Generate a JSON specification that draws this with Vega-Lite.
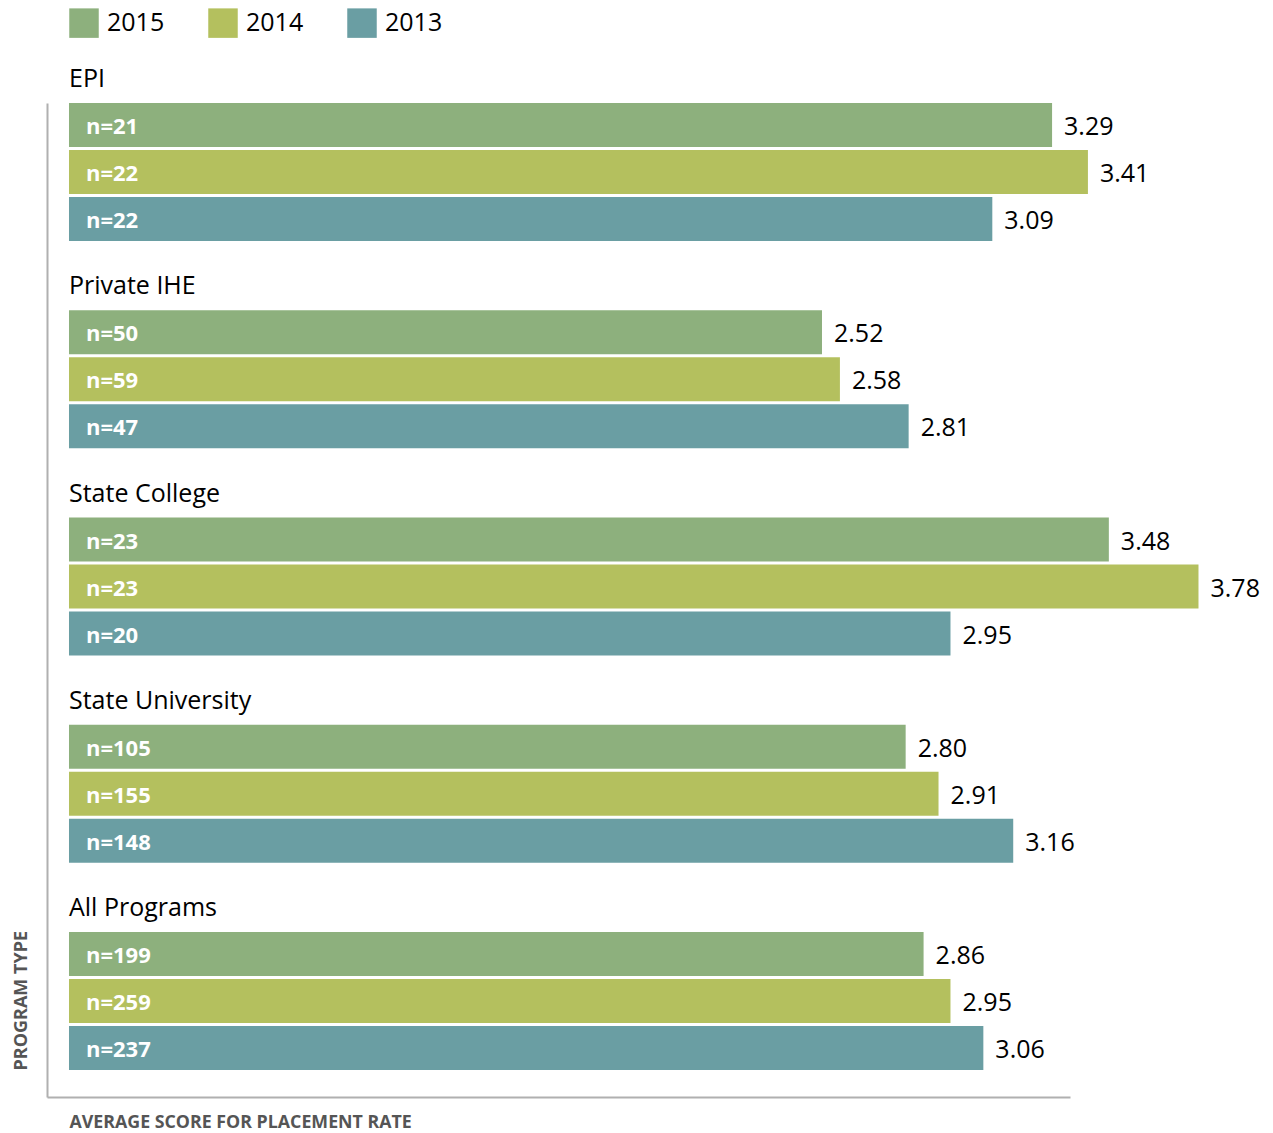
{
  "$schema": "https://vega.github.io/schema/vega-lite/v6.json",
  "width": 1023,
  "height": 994,
  "autosize": {"type": "none"},
  "padding": {"left": 47, "top": 103, "right": 203, "bottom": 36},
  "background": "white",
  "config": {"font": "Open Sans", "view": {"stroke": null}},
  "data": {"values": [
    {"group": "EPI", "year": "2015", "score": 3.29, "sample": "n=21"},
    {"group": "EPI", "year": "2014", "score": 3.41, "sample": "n=22"},
    {"group": "EPI", "year": "2013", "score": 3.09, "sample": "n=22"},
    {"group": "Private IHE", "year": "2015", "score": 2.52, "sample": "n=50"},
    {"group": "Private IHE", "year": "2014", "score": 2.58, "sample": "n=59"},
    {"group": "Private IHE", "year": "2013", "score": 2.81, "sample": "n=47"},
    {"group": "State College", "year": "2015", "score": 3.48, "sample": "n=23"},
    {"group": "State College", "year": "2014", "score": 3.78, "sample": "n=23"},
    {"group": "State College", "year": "2013", "score": 2.95, "sample": "n=20"},
    {"group": "State University", "year": "2015", "score": 2.80, "sample": "n=105"},
    {"group": "State University", "year": "2014", "score": 2.91, "sample": "n=155"},
    {"group": "State University", "year": "2013", "score": 3.16, "sample": "n=148"},
    {"group": "All Programs", "year": "2015", "score": 2.86, "sample": "n=199"},
    {"group": "All Programs", "year": "2014", "score": 2.95, "sample": "n=259"},
    {"group": "All Programs", "year": "2013", "score": 3.06, "sample": "n=237"}
  ]},
  "encoding": {
    "y": {
      "field": "group",
      "type": "nominal",
      "scale": {
        "domain": ["EPI", "Private IHE", "State College", "State University", "All Programs"],
        "paddingInner": 0.3341,
        "paddingOuter": 0.0651,
        "align": 0
      },
      "axis": {
        "title": "PROGRAM TYPE",
        "labels": false,
        "ticks": false,
        "grid": false,
        "domainColor": "#b0b0b0",
        "domainWidth": 2,
        "titleX": -26,
        "titleY": 967,
        "titleAngle": 270,
        "titleAlign": "left",
        "titleBaseline": "middle",
        "titleFontSize": 18,
        "titleFontWeight": "bold",
        "titleColor": "#555555"
      }
    }
  },
  "layer": [
    {
      "mark": {"type": "bar"},
      "encoding": {
        "x": {
          "field": "score",
          "type": "quantitative",
          "scale": {"domain": [-0.0736, 3.35], "nice": false, "zero": false},
          "axis": {
            "title": "AVERAGE SCORE FOR PLACEMENT RATE",
            "labels": false,
            "ticks": false,
            "grid": false,
            "domainColor": "#b0b0b0",
            "domainWidth": 2,
            "titleX": 22,
            "titleY": 25,
            "titleAlign": "left",
            "titleAnchor": null,
            "titleBaseline": "middle",
            "titleFontSize": 17.8,
            "titleFontWeight": "bold",
            "titleColor": "#555555"
          }
        },
        "x2": {"datum": 0},
        "yOffset": {
          "field": "year",
          "type": "nominal",
          "scale": {"domain": ["2015", "2014", "2013"], "paddingInner": 0.0638, "paddingOuter": 0}
        },
        "color": {
          "field": "year",
          "type": "nominal",
          "scale": {"domain": ["2015", "2014", "2013"], "range": ["#8db07d", "#b4c05e", "#6a9ea3"]},
          "legend": {
            "orient": "none",
            "legendX": 22,
            "legendY": -95,
            "direction": "horizontal",
            "title": null,
            "padding": 0,
            "symbolType": "square",
            "symbolSize": 870,
            "symbolStrokeWidth": 0,
            "symbolOpacity": 1,
            "labelFontSize": 25,
            "labelColor": "black",
            "labelOffset": 8,
            "columnPadding": 43
          }
        }
      }
    },
    {
      "transform": [{"filter": "datum.year == '2015'"}],
      "mark": {"type": "text", "align": "left", "baseline": "alphabetic", "dy": -16, "fontSize": 25, "color": "black"},
      "encoding": {
        "x": {"datum": 0, "type": "quantitative"},
        "y": {"field": "group", "type": "nominal", "bandPosition": 0},
        "text": {"field": "group"}
      }
    },
    {
      "mark": {"type": "text", "align": "left", "baseline": "middle", "dx": 17, "dy": 2, "fontSize": 22, "fontWeight": "bold", "color": "white"},
      "encoding": {
        "x": {"datum": 0, "type": "quantitative"},
        "yOffset": {"field": "year", "type": "nominal"},
        "text": {"field": "sample"}
      }
    },
    {
      "mark": {"type": "text", "align": "left", "baseline": "middle", "dx": 12, "dy": 2, "fontSize": 25, "color": "black"},
      "encoding": {
        "x": {"field": "score", "type": "quantitative"},
        "yOffset": {"field": "year", "type": "nominal"},
        "text": {"field": "score", "format": ".2f"}
      }
    }
  ]
}
